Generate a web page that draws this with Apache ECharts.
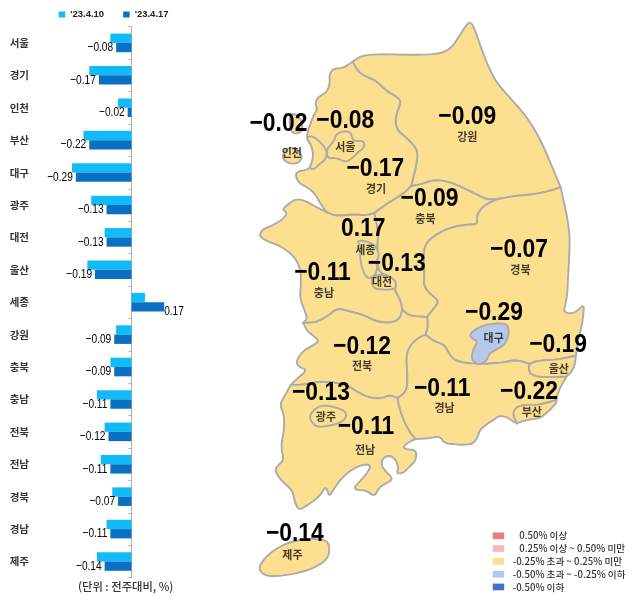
<!DOCTYPE html>
<html lang="ko">
<head>
<meta charset="utf-8">
<style>html,body{margin:0;padding:0;background:#fff}#c{width:640px;height:604px}</style>
<script src="https://cdn.jsdelivr.net/npm/echarts@6/dist/echarts.min.js"></script>
</head>
<body>
<div id="c"></div>
<script>
// ---------- data ----------
const categories = ['서울','경기','인천','부산','대구','광주','대전','울산','세종','강원','충북','충남','전북','전남','경북','경남','제주'];
const prevWeek = [-0.11,-0.22,-0.07,-0.25,-0.31,-0.21,-0.14,-0.23,0.07,-0.08,-0.11,-0.18,-0.14,-0.16,-0.10,-0.13,-0.18];
const currWeek = [-0.08,-0.17,-0.02,-0.22,-0.29,-0.13,-0.13,-0.19,0.17,-0.09,-0.09,-0.11,-0.12,-0.11,-0.07,-0.11,-0.14];
const seriesNames = ["'23.4.10","'23.4.17"];
const legendLabels = ['   0.50% 이상','   0.25% 이상 ~ 0.50% 미만','-0.25% 초과 ~ 0.25% 미만','-0.50% 초과 ~ -0.25% 이하','-0.50% 이하'];
const unitText = '(단위 : 전주대비, %)';

// ---------- map geometry (traced outline, page-pixel units) ----------
const arcs = {
  coastGw:[[353.3,62.7],[361.7,56.7],[380,55],[413.3,56],[440,55],[451.7,49.3],[460,36.7],[466.7,26],[471,22.7],[475,30],[480.7,46.7],[488.3,66.7],[496.7,83.3],[510,98.3],[523.3,113.3],[535,130],[545,150],[553.3,170],[560.7,187.7]],
  bGgGw:[[353.3,62.7],[359.3,73.3],[368.3,78.3],[376.7,81.7],[386.7,91.7],[398.3,98.3],[401.7,103.3],[396,116.7],[396.7,130],[406.7,138.3],[415,146.7],[418.3,153.3],[416.7,166.7],[413.3,180],[411.7,186.7]],
  bGwCb:[[411.7,186.7],[421.7,185],[433.3,180.7],[446.7,181.7],[460,186.7],[473.3,193.3],[486.7,200],[496.7,200]],
  bGwGb:[[496.7,200],[513.3,196.7],[533.3,195],[550,191.7],[560.7,187.7]],
  coastGg:[[353.3,62.7],[343.3,69.3],[335,69.3],[330,75],[330.7,85],[327.3,93.3],[318.3,98.3],[316,105],[318.3,110],[315,115],[311.7,123],[306.7,138.3],[311.7,145],[314,153.3],[313.3,161.7],[310,169.3],[306.7,170.7],[300,171.7],[296,175],[299.3,183.3],[308.3,188.3],[315,193.3],[321.7,205],[327.3,212.7]],
  bGgCn:[[327.3,212.7],[336.7,216.7],[353.3,215],[367,216],[375,213.5]],
  bGgCb:[[375,213.5],[380,210],[390,202.7],[403.3,195],[410,188.3],[411.7,186.7]],
  coastCn:[[327.3,212.7],[318.3,208.3],[306.7,201.7],[296.7,199.3],[286.7,206.7],[283.3,210],[288.3,214],[283.3,220],[273.3,226],[263.3,230],[260,236.7],[268.3,241.7],[281.7,246.7],[295,256.7],[301.7,270],[301.7,286.7],[300.7,298.3],[305,310],[308.3,318.3],[304,323.3]],
  bCnJb:[[304,323.3],[316.7,322.7],[328.3,316.7],[338.3,308.3],[350,311.7],[363.3,315],[376.7,321.7],[390,323.3],[400,320],[403,310]],
  bCnCb:[[403,310],[401,300],[395,290],[397,284],[393,278],[380,273],[378,262],[378,246],[379,232],[375,213.5]],
  bCbGb:[[496.7,200],[483.3,206.7],[476.7,216.7],[478.3,225],[466.7,225],[450,228.3],[436.7,235],[426.7,243.3],[424,253.3],[425,273.3],[424.3,286.7],[431.7,295],[440,301.7],[433.3,310],[427.7,317.3]],
  bCbJb:[[427.7,317.3],[416.7,316.7],[408.3,315],[403,310]],
  coastGb:[[560.7,187.7],[565,206.7],[568.3,223.3],[570,240],[569.3,256.7],[568.3,276.7],[567.3,296.7],[565,306.7],[564,312.7],[573.3,314],[579.3,309.3],[584.3,305],[583.3,316.7],[581.7,326.7],[578.3,340],[576,356]],
  bGbUs:[[576,356],[556.7,360],[538.3,360.7],[530,364]],
  bGbGn:[[530,364],[516.7,360],[503.3,362.7],[488.3,364],[474.3,364],[456.7,361.7],[450,355],[445,345],[435,341.7],[426,335]],
  bGbJb:[[426,335],[428.3,326.7],[427.7,317.3]],
  coastJb:[[304,323.3],[308.3,331.7],[315,336.7],[320,341.7],[311.7,346.7],[303.3,351.7],[296.7,361.7],[300,367.3],[308.3,370],[296.7,380],[291.7,385]],
  bJbJn:[[291.7,385],[301.7,385],[311.7,383.3],[323.3,381.7],[340,383.3],[350,386.7],[360,393.3],[371.7,398.3],[383.3,398.3],[390,395],[398.3,398.3]],
  bJbGn:[[398.3,398.3],[406.7,391.7],[408.3,380],[406.7,356.7],[410,346.7],[418.3,338.3],[426,335]],
  coastJn:[[291.7,385],[285,396.7],[280.7,405],[285,415],[285,430],[281.7,446.7],[285,460],[277.3,466.7],[276,471.7],[283.3,481.7],[293.3,490],[296,503.3],[300,510],[308.3,505],[320,496.7],[326,486.7],[328.3,490],[330,496.7],[335,488.3],[343.3,476.7],[356.7,466.7],[368.3,464],[371.7,466.7],[365,476.7],[355,486.7],[356.7,490],[366.7,490],[375,496.7],[380,486.7],[390,481.7],[393.3,478.3],[386.7,471.7],[381.7,465],[383.3,458.3],[390,455],[396.7,460],[399.3,468.3],[396.7,473.3],[403.3,473.3],[410,466.7],[416.7,460],[416.7,450],[406.7,449.3],[403.3,446.7],[410,441.7],[416,439]],
  bJnGn:[[398.3,398.3],[399.3,405],[403.3,418.3],[410,431.7],[416,439]],
  coastGn:[[416,439],[430,438.3],[440,436],[445,443.3],[453.3,444],[461.7,445],[473.3,444],[478.3,436.7],[480,430],[488.3,423.3],[496.7,418.3],[498.3,416],[506.7,416.7],[513.3,421.7],[517.3,423.3]],
  bGnBs:[[517.3,423.3],[513.3,415],[515,408.3],[523.3,405],[540,405],[556.7,400]],
  coastBs:[[517.3,423.3],[526.7,420],[540,418.3],[546.7,413.3],[556.7,403.3],[556.7,400]],
  coastGnE:[[556.7,400],[558,393],[563,383],[566.7,376.7]],
  bGnUs:[[530,364],[529,368],[530,373.3],[536.7,376.7],[550,377.3],[566.7,376.7]],
  coastUs:[[576,356],[575,365],[571.7,372],[566.7,376.7]]
};
const regionRings = {
  '강원':['coastGw','-bGwGb','-bGwCb','-bGgGw'],
  '경기':['coastGg','bGgCn','bGgCb','-bGgGw'],
  '충남':['coastCn','bCnJb','bCnCb','-bGgCn'],
  '충북':['bGwCb','bCbGb','bCbJb','bCnCb','bGgCb'],
  '경북':['coastGb','bGbUs','bGbGn','bGbJb','-bCbGb','bGwGb'],
  '전북':['coastJb','bJbJn','bJbGn','bGbJb','bCbJb','-bCnJb'],
  '전남':['coastJn','-bJnGn','-bJbJn'],
  '경남':['bJnGn','coastGn','bGnBs','coastGnE','-bGnUs','bGbGn','-bJbGn'],
  '울산':['coastUs','-bGnUs','-bGbUs'],
  '부산':['coastBs','-bGnBs']
};
const closedRegions = {
  '서울':[[[327.3,150],[335,141.7],[336.7,135],[345,131.7],[351.7,133.3],[353.3,141.7],[365,141.7],[365,148.3],[358.3,153.3],[353.3,158.3],[346.7,163.3],[336.7,158.3],[328.3,159.3]]],
  '인천':[[[306.7,138.3],[313.3,136.7],[320,141.7],[327.3,150],[327.3,159.3],[320,165],[315,170],[310,169.3],[313.3,161.7],[314,153.3],[311.7,145]],
          [[283.3,158.3],[285,151.7],[293,147],[303,155],[301.7,161.7],[295,165],[286.7,162.7]],
          [[291.7,113.3],[301.7,118],[304,133],[293,135],[290,123]]],
  '세종':[[[357.3,240.7],[368,242],[376,246],[380,255],[377,262],[378,272],[372,279],[366,277],[362,266],[360.5,255],[362,247]]],
  '대전':[[[372.3,278.3],[373.3,288.3],[381.7,290],[395,290],[397.3,284],[393.3,278.3],[383,275],[376,276]]],
  '대구':[[[470,335],[475,330],[485,325],[500,323.3],[508.3,325],[509.3,335],[505,345],[496.7,350],[490,353.3],[486.7,361.7],[478.3,365],[471.7,360],[473.3,350],[478.3,341.7],[471.7,338.3]]],
  '광주':[[[310,416.7],[315,409.3],[323.3,405],[336.7,407.3],[346.7,411.7],[346.7,418.3],[340,423.3],[328.3,426],[318.3,427],[313.3,423.3]]],
  '제주':[[[259.3,568.3],[265,558.3],[276.7,548.3],[293.3,540.7],[313.3,538.3],[328.3,540],[330.7,550],[327.3,560],[313.3,568.3],[296.7,573.3],[276.7,576],[265,575]]]
};
const valueAnchors = {'서울':[346,121.7],'경기':[376,170],'인천':[279.3,125],'부산':[529.3,392.3],'대구':[494.3,313.3],'광주':[321.7,393.3],'대전':[397.3,264],'울산':[558.3,345],'세종':[364,229],'강원':[467.7,117.5],'충북':[430,199],'충남':[323.3,273.3],'전북':[362.7,346.7],'전남':[366.7,427.3],'경북':[519.3,250.7],'경남':[442.7,389],'제주':[295.7,533.3]};
const nameAnchors = {'서울':[346,147.3],'경기':[376.7,189],'인천':[292.7,153.3],'부산':[532,411.7],'대구':[494,338.3],'광주':[326.7,417.3],'대전':[382.7,282.7],'울산':[559,369],'세종':[366,250],'강원':[467.7,137.7],'충북':[426,219],'충남':[324.7,293.3],'전북':[362.7,365.7],'전남':[365.7,449.3],'경북':[520.7,270.7],'경남':[445,408.3],'제주':[293.3,555]};

// ---------- helpers ----------
function chaikinOpen(p, n){
  for(let k=0;k<n;k++){
    const o=[p[0]];
    for(let i=0;i<p.length-1;i++){
      const a=p[i],b=p[i+1];
      o.push([a[0]*.75+b[0]*.25,a[1]*.75+b[1]*.25],[a[0]*.25+b[0]*.75,a[1]*.25+b[1]*.75]);
    }
    o.push(p[p.length-1]); p=o;
  }
  return p;
}
function chaikinClosed(p, n){
  for(let k=0;k<n;k++){
    const o=[];
    for(let i=0;i<p.length;i++){
      const a=p[i],b=p[(i+1)%p.length];
      o.push([a[0]*.75+b[0]*.25,a[1]*.75+b[1]*.25],[a[0]*.25+b[0]*.75,a[1]*.25+b[1]*.75]);
    }
    p=o;
  }
  return p;
}
function closeRing(r){return r.concat([r[0]]);}
const smoothArcs={};
Object.keys(arcs).forEach(k=>{smoothArcs[k]=chaikinOpen(arcs[k],2);});
function ringFromArcs(list){
  let out=[];
  list.forEach(n=>{
    const rev=n[0]==='-';
    const a=smoothArcs[rev?n.slice(1):n].slice();
    if(rev)a.reverse();
    out=out.concat(a);
  });
  return out;
}
const features=[];
Object.keys(regionRings).forEach(name=>{
  features.push({type:'Feature',properties:{name},geometry:{type:'Polygon',coordinates:[closeRing(ringFromArcs(regionRings[name]))]}});
});
Object.keys(closedRegions).forEach(name=>{
  features.push({type:'Feature',properties:{name},geometry:{type:'MultiPolygon',
    coordinates:closedRegions[name].map(r=>[closeRing(chaikinClosed(r,2))])}});
});
echarts.registerMap('kr',{type:'FeatureCollection',features});

const fmt=v=>v.toFixed(2).replace('-','\u2212');
const latin='"Liberation Sans",sans-serif';
const kr='"Noto Sans CJK KR","Noto Sans",sans-serif';
const idx=Object.fromEntries(categories.map((c,i)=>[c,i]));

function condensedText(x,y,text,opts){
  return {type:'text',x,y,scaleX:opts.scaleX,silent:true,
    style:{x:0,y:0,text,align:opts.align,verticalAlign:'middle',textAlign:opts.align,textVerticalAlign:'middle',
      fill:opts.color,fontFamily:latin,fontSize:opts.size,fontWeight:opts.weight}};
}

const chart=echarts.init(document.getElementById('c'),null,{renderer:'canvas'});
chart.setOption({
  animation:false,
  backgroundColor:'#fff',
  title:{text:unitText,left:78,top:581,padding:0,textStyle:{fontFamily:kr,fontSize:11.3,fontWeight:500,color:'#333'}},
  legend:{left:58.7,top:9.5,padding:0,itemWidth:6.5,itemHeight:6,itemGap:19,icon:'rect',data:seriesNames,selectedMode:false,
    textStyle:{fontFamily:latin,fontSize:9.5,fontWeight:'bold',color:'#222'}},
  grid:{left:35.5,width:153.6,top:26.7,height:551},
  xAxis:{type:'value',min:-0.5,max:0.3,show:false},
  yAxis:[
    {type:'category',inverse:true,data:categories,position:'left',axisLine:{show:false,onZero:false},axisTick:{show:false},
     axisLabel:{margin:6.5,fontFamily:kr,fontSize:10.5,fontWeight:'bold',color:'#333'}},
    {type:'category',inverse:true,data:categories,position:'left',axisLine:{show:true,onZero:true,lineStyle:{color:'#b0b0b0',width:1}},
     axisTick:{show:true,length:3,lineStyle:{color:'#b0b0b0'}},axisLabel:{show:false}}
  ],
  geo:{map:'kr',roam:false,silent:true,aspectScale:1,
    projection:{project:p=>p,unproject:p=>p},
    layoutCenter:[421.8,299.35],layoutSize:553.3,
    label:{show:false},
    itemStyle:{areaColor:'#FCDF8F',borderColor:'#ABABAB',borderWidth:1.9},
    emphasis:{disabled:true},select:{disabled:true}},
  visualMap:{type:'piecewise',seriesIndex:2,left:492.7,top:531,padding:0,orient:'vertical',align:'left',
    itemWidth:11.5,itemHeight:6.7,itemGap:3.2,itemSymbol:'rect',textGap:8.5,selectedMode:false,hoverLink:false,
    textStyle:{fontFamily:kr,fontSize:9.6,fontWeight:500,color:'#333'},
    pieces:[
      {gte:0.5,label:legendLabels[0],color:'#E97C80'},
      {gte:0.25,lt:0.5,label:legendLabels[1],color:'#F4B7BC'},
      {gt:-0.25,lt:0.25,label:legendLabels[2],color:'#FCDF8F'},
      {gt:-0.5,lte:-0.25,label:legendLabels[3],color:'#B7C9E8'},
      {lte:-0.5,label:legendLabels[4],color:'#4472C4'}
    ]},
  series:[
    {name:seriesNames[0],type:'bar',yAxisIndex:0,barWidth:9.3,barGap:0,silent:true,data:prevWeek,itemStyle:{color:'#11BBF7'}},
    {name:seriesNames[1],type:'bar',yAxisIndex:0,barWidth:9.3,barGap:0,silent:true,data:currWeek,itemStyle:{color:'#0A70C4'}},
    {type:'map',geoIndex:0,silent:true,data:categories.map((c,i)=>({name:c,value:currWeek[i]}))},
    {type:'custom',coordinateSystem:'geo',silent:true,z:5,clip:false,
     data:categories.map(c=>valueAnchors[c].concat([currWeek[idx[c]]])),
     renderItem:(params,api)=>{
       const pt=api.coord([api.value(0),api.value(1)]);
       return condensedText(pt[0],pt[1],fmt(api.value(2)),{scaleX:.88,align:'center',color:'#000',size:26,weight:'bold'});
     }},
    {type:'scatter',coordinateSystem:'geo',symbolSize:0,silent:true,z:6,
     data:categories.map(c=>({name:c,value:nameAnchors[c]})),
     label:{show:true,position:'inside',formatter:p=>p.name,fontFamily:kr,fontWeight:'bold',fontSize:11,color:'#111'}},
    {type:'custom',coordinateSystem:'cartesian2d',xAxisIndex:0,yAxisIndex:0,silent:true,z:5,clip:false,
     data:currWeek.map((v,i)=>[v,i]),
     renderItem:(params,api)=>{
       const v=api.value(0), pt=api.coord([v,api.value(1)]);
       return v>0
         ? condensedText(pt[0],pt[1]+9.2,fmt(v),{scaleX:.78,align:'left',color:'#000',size:13,weight:'normal'})
         : condensedText(pt[0]-3,pt[1]+4.7,fmt(v),{scaleX:.78,align:'right',color:'#000',size:13,weight:'normal'});
     }}
  ]
});
</script>
</body>
</html>
